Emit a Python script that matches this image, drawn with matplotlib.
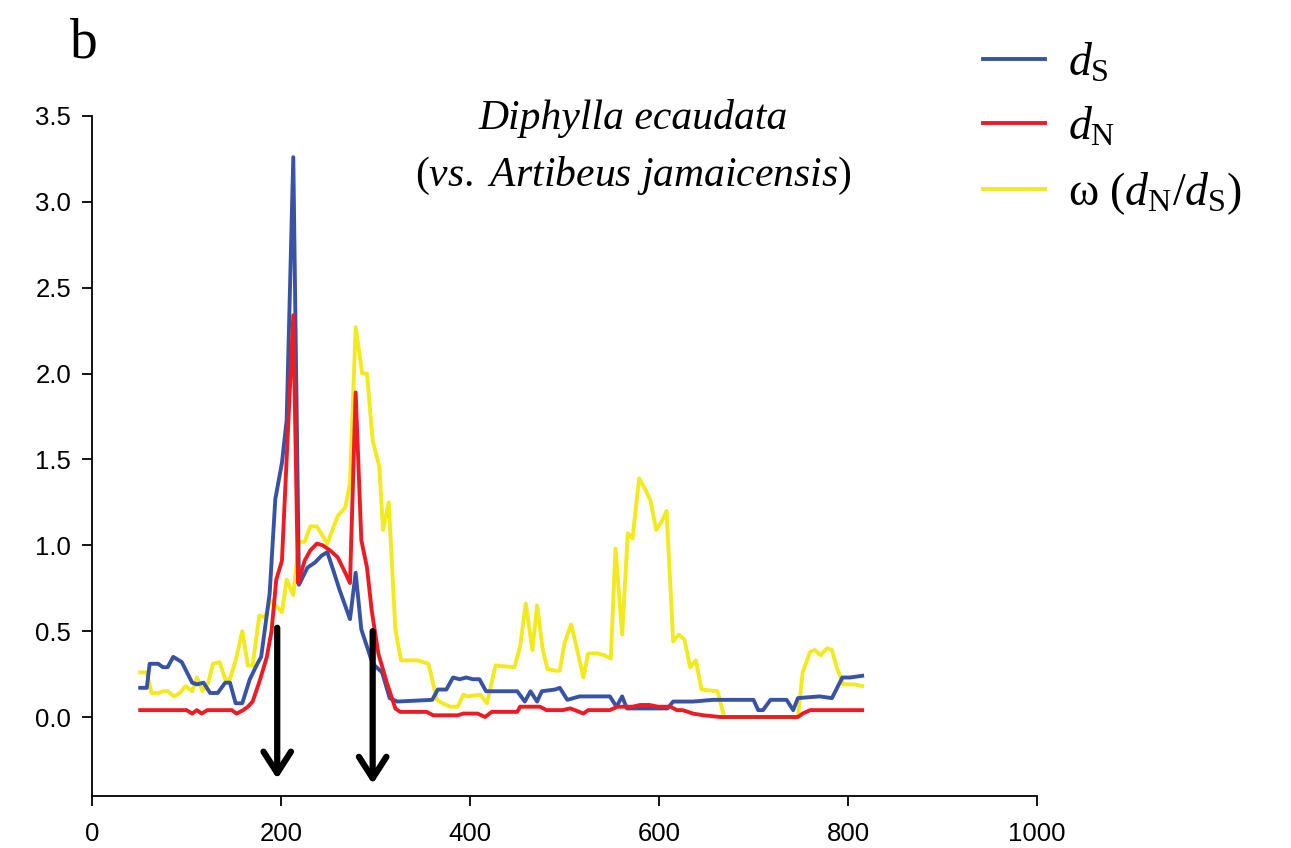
import matplotlib
matplotlib.use("Agg")
import matplotlib.pyplot as plt

plt.rcParams['font.family'] = ['Liberation Sans', 'DejaVu Sans']
plt.rcParams['mathtext.fontset'] = 'custom'
plt.rcParams['mathtext.rm'] = 'Liberation Serif'
plt.rcParams['mathtext.it'] = 'Liberation Serif:italic'

# dS (synonymous divergence)
ds_x = [51, 58, 61, 70, 75, 80, 86, 95, 106, 111, 118, 125, 133, 141, 146, 152, 159, 167, 175, 179,
        188, 194, 201, 206, 213, 219, 228, 236, 243, 249, 255, 262, 273, 279, 285, 291, 297, 307, 315, 323,
        360, 366, 375, 382, 389, 396, 403, 410, 417, 450, 458, 464, 471, 476, 490, 495, 503, 516, 538, 548,
        555, 561, 566, 580, 609, 615, 636, 657, 700, 705, 710, 718, 735, 742, 747, 770, 783, 794, 802, 815]
ds_y = [0.17, 0.17, 0.31, 0.31, 0.29, 0.29, 0.35, 0.32, 0.20, 0.19, 0.20, 0.14, 0.14, 0.20, 0.20, 0.08, 0.08, 0.22, 0.31, 0.35,
        0.72, 1.27, 1.48, 1.73, 3.26, 0.77, 0.87, 0.90, 0.94, 0.96, 0.86, 0.74, 0.57, 0.84, 0.51, 0.41, 0.31, 0.26, 0.11, 0.09,
        0.10, 0.16, 0.16, 0.23, 0.22, 0.23, 0.22, 0.22, 0.15, 0.15, 0.09, 0.15, 0.09, 0.15, 0.16, 0.17, 0.10, 0.12, 0.12, 0.12,
        0.06, 0.12, 0.05, 0.05, 0.05, 0.09, 0.09, 0.10, 0.10, 0.04, 0.04, 0.10, 0.10, 0.04, 0.11, 0.12, 0.11, 0.23, 0.23, 0.24]

# dN (non-synonymous divergence)
dn_x = [51, 100, 106, 111, 116, 122, 148, 153, 160, 165, 170, 178, 185, 190, 195, 201, 213, 218, 225,
        231, 238, 244, 252, 260, 268, 273, 279, 285, 291, 296, 303, 312, 321, 326, 354, 361, 387, 393, 408,
        416, 423, 450, 453, 474, 481, 498, 506, 511, 520, 525, 548, 556, 572, 580, 590, 599, 612, 619, 625,
        636, 647, 665, 747, 752, 760, 815]
dn_y = [0.04, 0.04, 0.02, 0.04, 0.02, 0.04, 0.04, 0.02, 0.04, 0.06, 0.09, 0.22, 0.35, 0.50, 0.80, 0.91, 2.34, 0.78, 0.91,
        0.97, 1.01, 1.00, 0.97, 0.93, 0.84, 0.78, 1.89, 1.03, 0.87, 0.62, 0.37, 0.20, 0.05, 0.03, 0.03, 0.01, 0.01, 0.02, 0.02,
        0.00, 0.03, 0.03, 0.06, 0.06, 0.04, 0.04, 0.05, 0.04, 0.02, 0.04, 0.04, 0.06, 0.06, 0.07, 0.07, 0.06, 0.06, 0.04, 0.04,
        0.02, 0.01, 0.00, 0.00, 0.02, 0.04, 0.04]

# omega = dN/dS
om_x = [51, 58, 63, 70, 75, 80, 87, 93, 99, 106, 111, 117, 123, 128, 135, 141, 146, 153, 159, 165,
        170, 177, 183, 189, 196, 201, 206, 213, 219, 225, 231, 238, 249, 260, 268, 273, 279, 286, 291, 297,
        304, 308, 314, 321, 327, 345, 356, 365, 371, 379, 387, 393, 397, 411, 418, 427, 447, 453, 459, 466,
        471, 477, 482, 490, 495, 500, 507, 513, 520, 525, 535, 542, 549, 554, 561, 567, 572, 579, 586, 591,
        597, 603, 608, 615, 621, 627, 633, 639, 645, 662, 669, 747, 752, 760, 765, 771, 778, 783, 788, 795,
        807, 815]
om_y = [0.26, 0.26, 0.14, 0.14, 0.15, 0.15, 0.12, 0.14, 0.18, 0.15, 0.23, 0.15, 0.20, 0.31, 0.32, 0.22, 0.22, 0.35, 0.50, 0.30,
        0.30, 0.59, 0.58, 0.68, 0.64, 0.61, 0.80, 0.71, 1.02, 1.02, 1.11, 1.11, 1.01, 1.17, 1.22, 1.36, 2.27, 2.00, 2.00, 1.61,
        1.46, 1.09, 1.25, 0.51, 0.33, 0.33, 0.31, 0.10, 0.08, 0.06, 0.06, 0.13, 0.12, 0.13, 0.08, 0.30, 0.29, 0.41, 0.66, 0.39,
        0.65, 0.39, 0.28, 0.27, 0.27, 0.43, 0.54, 0.40, 0.23, 0.37, 0.37, 0.36, 0.34, 0.98, 0.48, 1.07, 1.04, 1.39, 1.32, 1.26,
        1.09, 1.14, 1.20, 0.44, 0.48, 0.45, 0.29, 0.33, 0.16, 0.15, 0.00, 0.00, 0.26, 0.38, 0.39, 0.36, 0.40, 0.39, 0.29, 0.19,
        0.19, 0.18]

# arrows marking region boundaries
arrow_x = [196, 297]
arrow_top = [0.52, 0.50]
arrow_tip = [-0.36, -0.39]

fig = plt.figure(figsize=(12.91, 8.48), dpi=100)
ax = fig.add_axes([92 / 1291, 52 / 848, 945 / 1291, 680 / 848])

lw = 2.8
ax.plot(ds_x, ds_y, color='#3953a4', lw=lw, label=r'$d_{\mathrm{S}}$', zorder=3)
ax.plot(dn_x, dn_y, color='#ed1c24', lw=lw, label=r'$d_{\mathrm{N}}$', zorder=4)
ax.plot(om_x, om_y, color='#f2ea1d', lw=lw, label=r'ω ($d_{\mathrm{N}}/d_{\mathrm{S}}$)', zorder=2)

for x, y0, y1 in zip(arrow_x, arrow_top, arrow_tip):
    ax.annotate('', xy=(x, y1), xytext=(x, y0),
                arrowprops=dict(arrowstyle='->,head_length=0.7,head_width=0.45', lw=4.5, color='black',
                                shrinkA=0, shrinkB=0, mutation_scale=22), zorder=5)

ax.set_xlim(0, 1000)
ax.set_ylim(-0.46, 3.5)
ax.set_xticks([0, 200, 400, 600, 800, 1000])
ax.set_yticks([0.0, 0.5, 1.0, 1.5, 2.0, 2.5, 3.0, 3.5])
ax.set_yticklabels(['0.0', '0.5', '1.0', '1.5', '2.0', '2.5', '3.0', '3.5'])
for s in ['top', 'right']:
    ax.spines[s].set_visible(False)
for s in ['left', 'bottom']:
    ax.spines[s].set_linewidth(1.3)
ax.tick_params(direction='out', length=7, width=1.3, labelsize=18.5)
ax.tick_params(axis='y', pad=8)
ax.tick_params(axis='x', pad=12)

ax.text(0.5725, 0.997, 'Diphylla ecaudata', transform=ax.transAxes, ha='center', va='center',
        family='Liberation Serif', style='italic', fontsize=30)
ax.text(0.5725, 0.912, r'($\mathit{vs.\ Artibeus\ jamaicensis}$)', transform=ax.transAxes,
        ha='center', va='center', family='Liberation Serif', fontsize=30)

fig.text(70 / 1291, 1 - 44 / 848, 'b', family='Liberation Serif', fontsize=40, va='center', ha='left')

fig.legend(loc='upper left', bbox_to_anchor=(983 / 1291, 1 - 42 / 848), frameon=False,
           borderpad=0, borderaxespad=0,
           handlelength=1.35, labelspacing=0.45, handletextpad=0.5,
           prop={'family': 'Liberation Serif', 'size': 33})

fig.savefig('out.png', dpi=100)
